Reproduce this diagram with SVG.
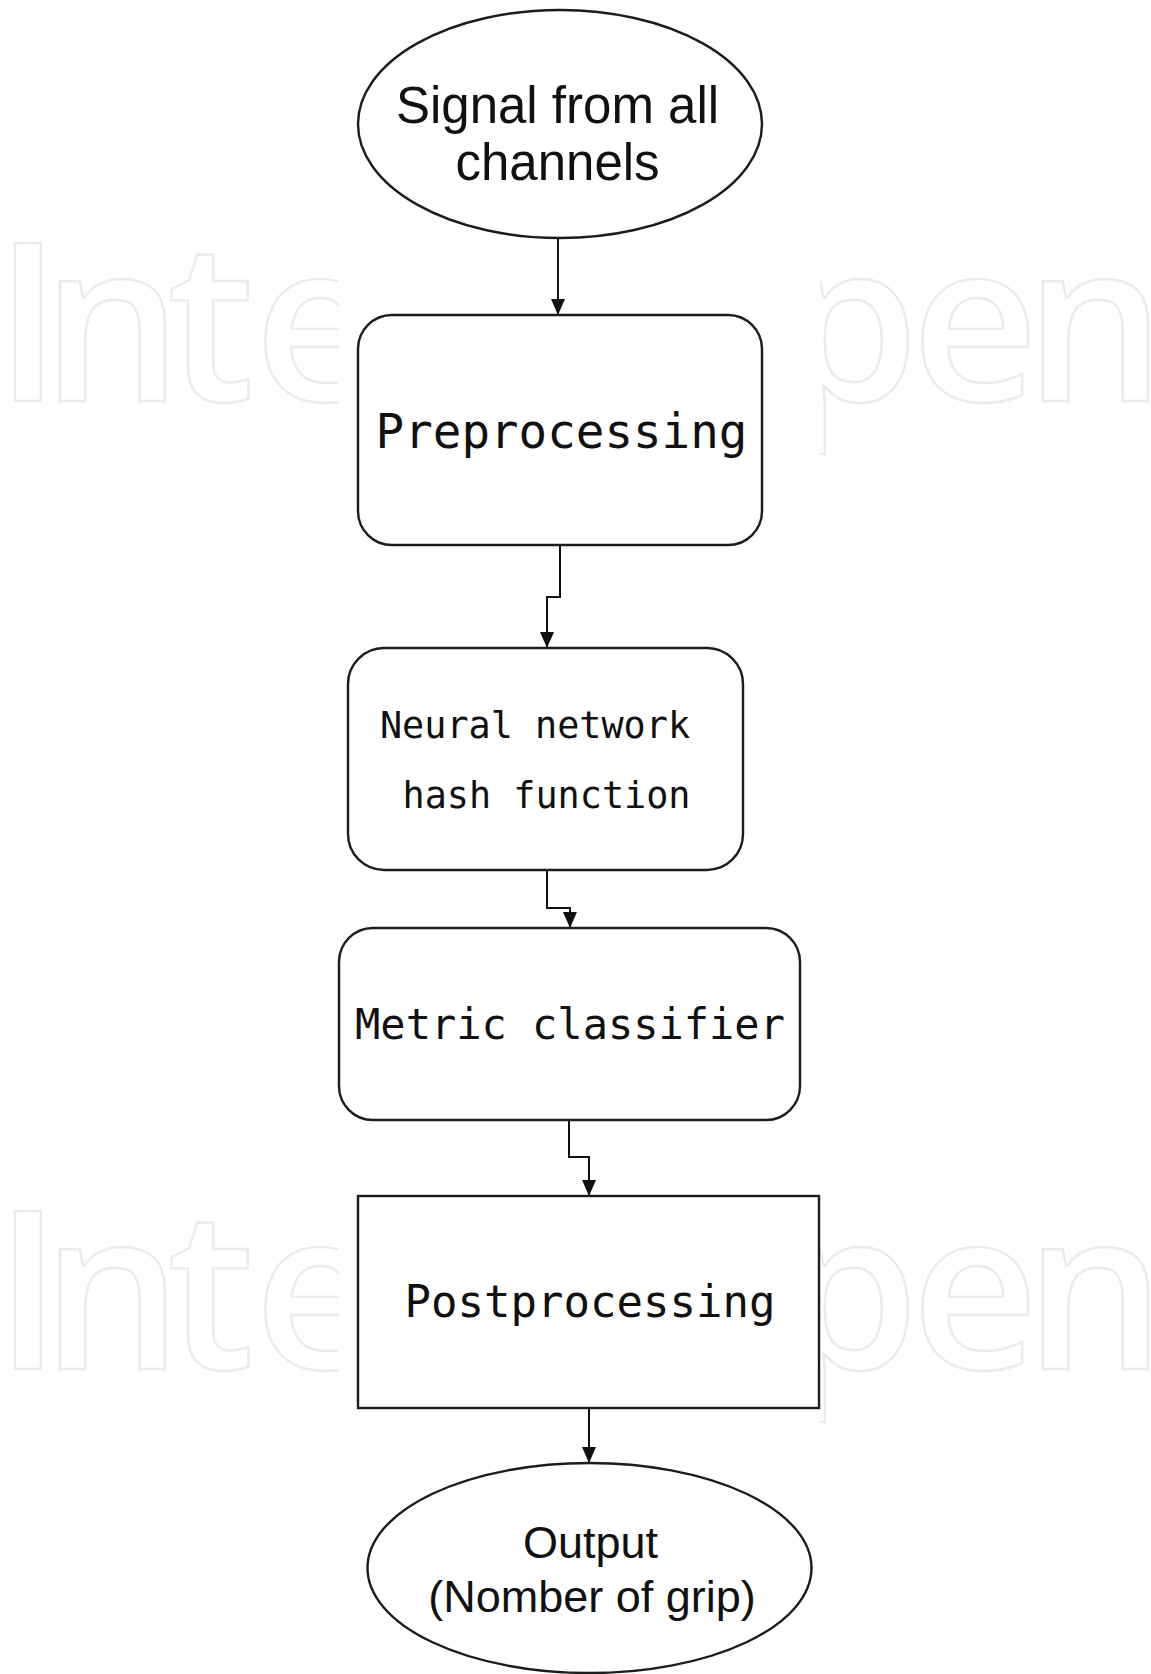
<svg xmlns="http://www.w3.org/2000/svg" width="1151" height="1674" viewBox="0 0 1151 1674">
  <style>
    .wm { font-family: "Open Sans", "DejaVu Sans", sans-serif; font-size: 221px; font-weight: 600; fill: none; stroke: #ebebeb; stroke-width: 2.4; text-anchor: middle; }
    .shape { fill: #ffffff; stroke: #1c1c1c; stroke-width: 2.4; }
    .sans { font-family: "Liberation Sans", Arial, sans-serif; fill: #111111; text-anchor: middle; }
    .mono { font-family: "DejaVu Sans Mono", "Liberation Mono", monospace; fill: #111111; text-anchor: middle; }
    .link { fill: none; stroke: #111111; stroke-width: 2; }
  </style>
  <defs>
    <!-- arrowhead drawn along +x so orient="auto" follows the line -->
    <marker id="arrow" markerUnits="userSpaceOnUse" markerWidth="16" markerHeight="14" viewBox="0 0 16 14" refX="16" refY="7" orient="auto">
      <path d="M0,0 L16,7 L0,14 Z" fill="#111111"/>
    </marker>
  </defs>

  <rect x="0" y="0" width="1151" height="1674" fill="#ffffff"/>

  <!-- background watermark lettering, one word per run -->
  <g id="watermark">
    <text class="wm" y="401"><tspan x="28">I</tspan><tspan x="112">n</tspan><tspan x="211">t</tspan><tspan x="318">e</tspan></text>
    <text class="wm" y="401"><tspan x="850">p</tspan><tspan x="975">e</tspan><tspan x="1095">n</tspan></text>
    <text class="wm" y="1369"><tspan x="28">I</tspan><tspan x="112">n</tspan><tspan x="211">t</tspan><tspan x="318">e</tspan></text>
    <text class="wm" y="1369"><tspan x="850">p</tspan><tspan x="975">e</tspan><tspan x="1095">n</tspan></text>
    <!-- white panel behind the flowchart -->
    <rect x="339" y="0" width="481" height="1674" fill="#ffffff"/>
  </g>

  <g id="connectors">
    <path class="link" d="M558,238 V315" marker-end="url(#arrow)"/>
    <path class="link" d="M560,545 V597 H547 V648" marker-end="url(#arrow)"/>
    <path class="link" d="M547,870 V908 H570 V928" marker-end="url(#arrow)"/>
    <path class="link" d="M569,1120 V1157 H589 V1196" marker-end="url(#arrow)"/>
    <path class="link" d="M589,1408 V1463" marker-end="url(#arrow)"/>
  </g>

  <g id="signal">
    <ellipse class="shape" cx="560" cy="124" rx="202" ry="114"/>
    <text class="sans" x="557.5" y="123" font-size="51">Signal from all</text>
    <text class="sans" x="557.5" y="180" font-size="51">channels</text>
  </g>

  <g id="preprocessing">
    <rect class="shape" x="358" y="315" width="404" height="230" rx="34" ry="34"/>
    <text class="mono" x="561.5" y="448" font-size="47.5">Preprocessing</text>
  </g>

  <g id="hash">
    <rect class="shape" x="348" y="648" width="395" height="222" rx="36" ry="36"/>
    <text class="mono" x="535" y="738" font-size="36.8">Neural network</text>
    <text class="mono" x="546.5" y="808" font-size="36.8">hash function</text>
  </g>

  <g id="classifier">
    <rect class="shape" x="339" y="928" width="461" height="192" rx="34" ry="34"/>
    <text class="mono" x="570" y="1039" font-size="42">Metric classifier</text>
  </g>

  <g id="postprocessing">
    <rect class="shape" x="358" y="1196" width="461" height="212"/>
    <text class="mono" x="590" y="1317" font-size="44">Postprocessing</text>
  </g>

  <g id="output">
    <ellipse class="shape" cx="589.5" cy="1568" rx="222" ry="105"/>
    <text class="sans" x="590.5" y="1558" font-size="45">Output</text>
    <text class="sans" x="592" y="1612" font-size="45">(Nomber of grip)</text>
  </g>
</svg>
